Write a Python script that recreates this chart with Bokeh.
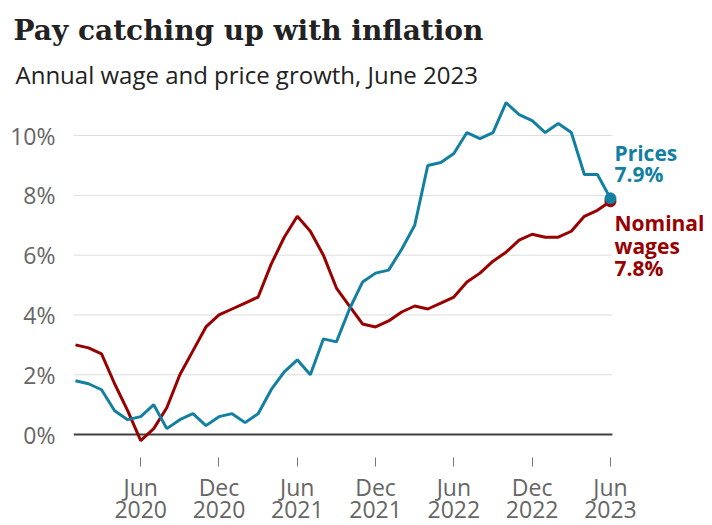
from bokeh.plotting import figure
from bokeh.models import Range1d, FixedTicker, PrintfTickFormatter, Label, Title
from bokeh.embed import file_html
from bokeh.resources import INLINE

# ---- data ----
months = [
    "Jan 2020", "Feb 2020", "Mar 2020", "Apr 2020", "May 2020", "Jun 2020",
    "Jul 2020", "Aug 2020", "Sep 2020", "Oct 2020", "Nov 2020", "Dec 2020",
    "Jan 2021", "Feb 2021", "Mar 2021", "Apr 2021", "May 2021", "Jun 2021",
    "Jul 2021", "Aug 2021", "Sep 2021", "Oct 2021", "Nov 2021", "Dec 2021",
    "Jan 2022", "Feb 2022", "Mar 2022", "Apr 2022", "May 2022", "Jun 2022",
    "Jul 2022", "Aug 2022", "Sep 2022", "Oct 2022", "Nov 2022", "Dec 2022",
    "Jan 2023", "Feb 2023", "Mar 2023", "Apr 2023", "May 2023", "Jun 2023",
]
prices = [1.8, 1.7, 1.5, 0.8, 0.5, 0.6, 1.0, 0.2, 0.5, 0.7, 0.3, 0.6,
          0.7, 0.4, 0.7, 1.5, 2.1, 2.5, 2.0, 3.2, 3.1, 4.2, 5.1, 5.4,
          5.5, 6.2, 7.0, 9.0, 9.1, 9.4, 10.1, 9.9, 10.1, 11.1, 10.7, 10.5,
          10.1, 10.4, 10.1, 8.7, 8.7, 7.9]
wages = [3.0, 2.9, 2.7, 1.7, 0.8, -0.2, 0.2, 0.9, 2.0, 2.8, 3.6, 4.0,
         4.2, 4.4, 4.6, 5.7, 6.6, 7.3, 6.8, 6.0, 4.9, 4.3, 3.7, 3.6,
         3.8, 4.1, 4.3, 4.2, 4.4, 4.6, 5.1, 5.4, 5.8, 6.1, 6.5, 6.7,
         6.6, 6.6, 6.8, 7.3, 7.5, 7.8]
tick_months = ["Jun 2020", "Dec 2020", "Jun 2021", "Dec 2021",
               "Jun 2022", "Dec 2022", "Jun 2023"]
tick_labels = ["Jun\n2020", "Dec\n2020", "Jun\n2021", "Dec\n2021",
               "Jun\n2022", "Dec\n2022", "Jun\n2023"]
y_ticks = [0, 2, 4, 6, 8, 10]

TEAL = "#1380A1"
RED = "#990000"
GREY = "#666666"
SANS = "Open Sans"

x = list(range(len(months)))
tick_pos = [months.index(m) for m in tick_months]

pad = 0.15
y_min, y_max = -3.04, 11.44
p = figure(width=712, height=525,
           x_range=Range1d(-pad, 48.82),
           y_range=Range1d(y_min, y_max),
           output_backend="svg", toolbar_location=None, title=None,
           min_border_left=73, min_border_right=0,
           min_border_top=92, min_border_bottom=0)
p.outline_line_color = None
p.background_fill_color = "white"
p.border_fill_color = "white"

sub = Title(text="Annual wage and price growth, June 2023", text_font=SANS,
            text_font_size="24px", text_font_style="normal", text_color="#222222",
            align="left", offset=-58, standoff=3)
p.add_layout(sub, "above")
ttl = Title(text="Pay catching up with inflation", text_font="DejaVu Serif",
            text_font_size="28px", text_font_style="bold", text_color="#222222",
            align="left", offset=-60, standoff=15)
p.add_layout(ttl, "above")

# grid lines limited to the data span
p.xgrid.visible = False
p.ygrid.visible = False
gx0, gx1 = x[0] - pad, x[-1] + pad
p.segment(x0=[gx0] * len(y_ticks), y0=y_ticks, x1=[gx1] * len(y_ticks), y1=y_ticks,
          line_color="#dddddd", line_width=1)
p.segment(x0=[gx0], y0=[0], x1=[gx1], y1=[0], line_color="#404040", line_width=2)

# y axis
p.yaxis.ticker = FixedTicker(ticks=y_ticks)
p.yaxis.formatter = PrintfTickFormatter(format="%d%%")
p.yaxis.major_label_text_font = SANS
p.yaxis.major_label_text_font_size = "23px"
p.yaxis.major_label_text_color = GREY
p.yaxis.axis_line_color = None
p.yaxis.major_tick_line_color = None
p.yaxis.minor_tick_line_color = None
p.yaxis.major_label_standoff = 12

# x axis
p.xaxis.fixed_location = -0.77
p.xaxis.ticker = FixedTicker(ticks=tick_pos)
p.xaxis.major_label_overrides = {pos: lab for pos, lab in zip(tick_pos, tick_labels)}
p.xaxis.axis_line_color = None
p.xaxis.minor_tick_line_color = None
p.xaxis.major_tick_line_color = "#777777"
p.xaxis.major_tick_in = 0
p.xaxis.major_tick_out = 9
p.xaxis.major_label_text_font = SANS
p.xaxis.major_label_text_font_size = "23px"
p.xaxis.major_label_text_color = GREY
p.xaxis.major_label_text_line_height = 0.7
p.xaxis.major_label_standoff = 4

p.line(x, wages, line_color=RED, line_width=3)
p.line(x, prices, line_color=TEAL, line_width=3)
p.scatter([x[-1]], [wages[-1]], size=11, fill_color=RED, line_color=RED)
p.scatter([x[-1]], [prices[-1]], size=11, fill_color=TEAL, line_color=TEAL)

p.add_layout(Label(x=x[-1], y=prices[-1], text=f"Prices\n{prices[-1]}%",
                   x_offset=4, y_offset=10, text_baseline="bottom", text_align="left",
                   text_font=SANS, text_font_size="21px", text_font_style="bold",
                   text_color=TEAL, text_line_height=0.75))
p.add_layout(Label(x=x[-1], y=wages[-1], text=f"Nominal\nwages\n{wages[-1]}%",
                   x_offset=4, y_offset=-8, text_baseline="top", text_align="left",
                   text_font=SANS, text_font_size="21px", text_font_style="bold",
                   text_color=RED, text_line_height=0.8))

open("out.html", "w").write(file_html(p, INLINE))
